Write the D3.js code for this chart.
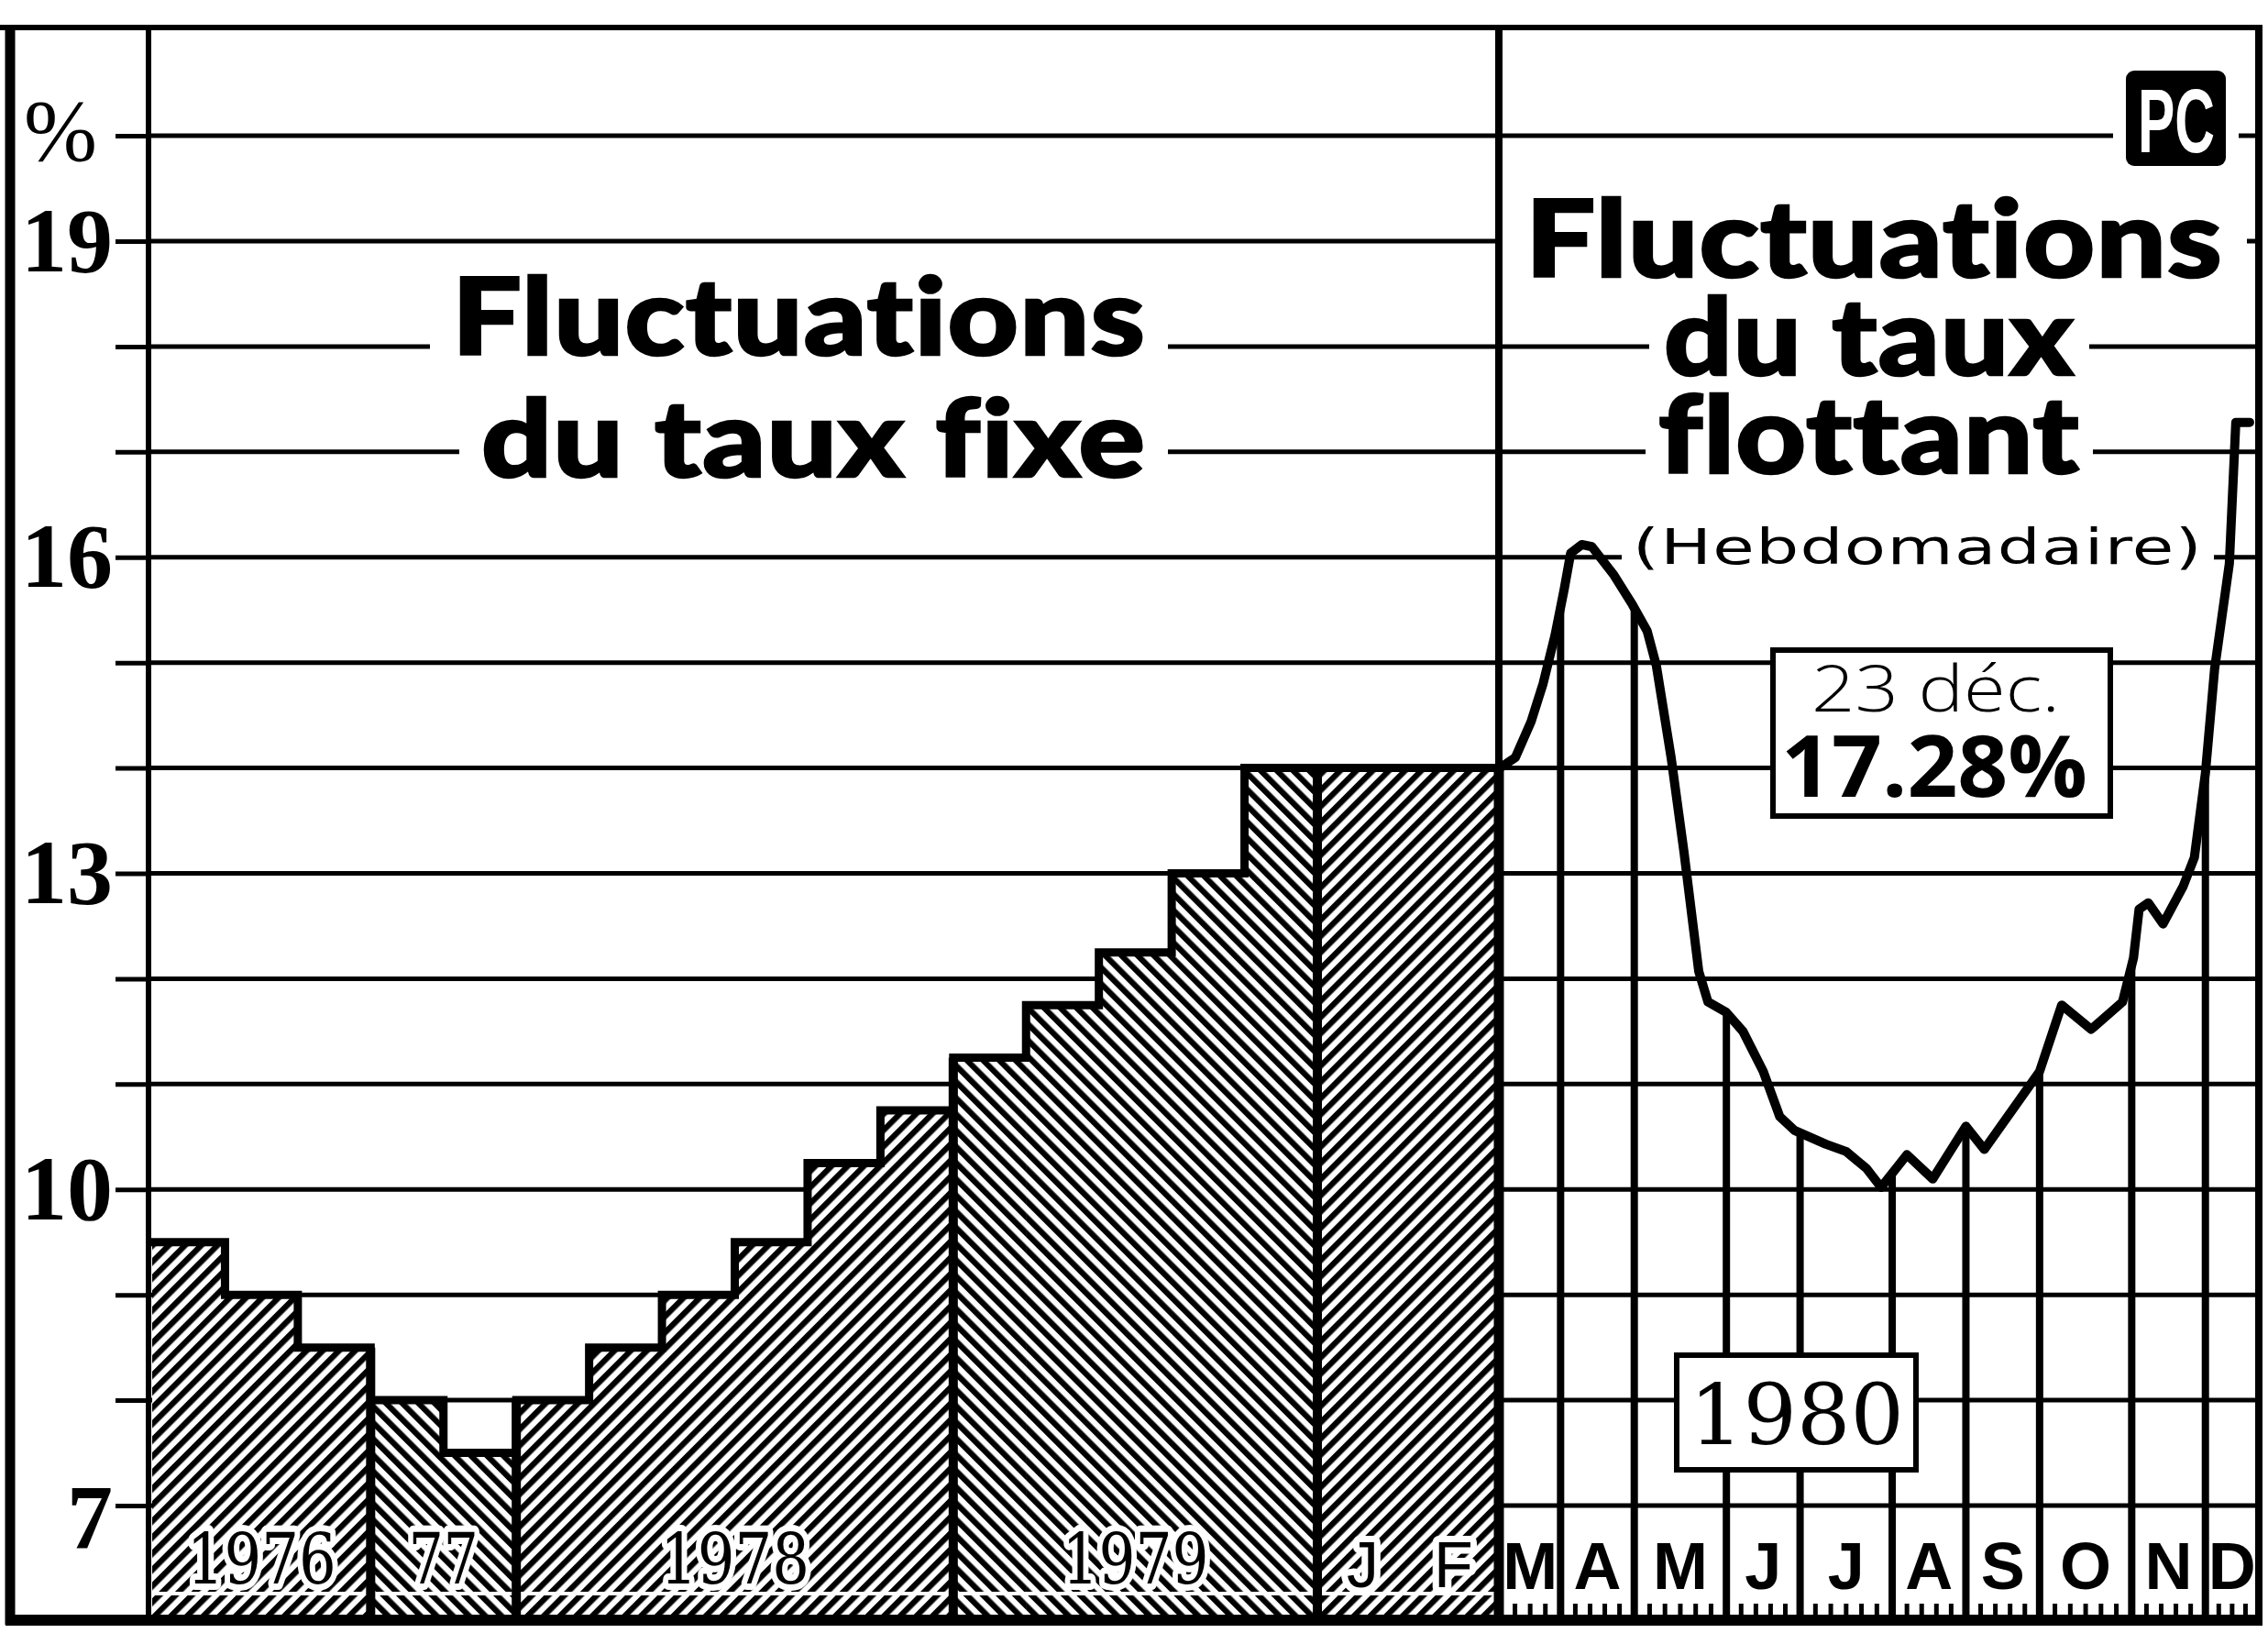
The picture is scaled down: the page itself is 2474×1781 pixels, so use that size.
<!DOCTYPE html>
<html lang="fr">
<head>
<meta charset="utf-8">
<title>Fluctuations du taux</title>
<script src="https://cdn.jsdelivr.net/npm/d3@7/dist/d3.min.js"></script>
<style>
  html, body { margin:0; padding:0; background:#fff; }
  svg { display:block; }
  text { font-variant-ligatures: none; font-feature-settings: "liga" 0, "clig" 0, "dlig" 0; }
</style>
</head>
<body>
<svg id="chart" width="2474" height="1781" xmlns="http://www.w3.org/2000/svg"></svg>
<script>
// ===================== DATA =====================
const gridLevels = [7, 8, 9, 10, 11, 12, 13, 14, 15, 16, 17, 18, 19, 20];
const tickLabels = { 7: "7", 10: "10", 13: "13", 16: "16", 19: "19", 20: "%" };

// fixed rate (taux fixe), one value per step
const fixedRates   = [9.5, 9.0, 8.5, 8.0, 7.5, 8.0, 8.5, 9.0, 9.5, 10.25, 10.75, 11.25, 11.75, 12.25, 13.0, 14.0, 14.0, 14.0];
const fixedGroup   = [0, 0, 0, 1, 1, 2, 2, 2, 2, 2, 2, 3, 3, 3, 3, 3, 4, 4];
const groupEdges   = [3, 5, 11, 16, 18];
const periodLabels = ["1976", "77", "1978", "1979", "J", "F"];
const periodStart  = [0, 3, 5, 11, 16, 17];
const periodEnd    = [3, 5, 11, 16, 17, 18];

// floating rate (taux flottant), weekly, 1980
const monthLabels   = ["M", "A", "M", "J", "J", "A", "S", "O", "N", "D"];
const monthWeeks    = [3.3, 4, 5, 4, 5, 4, 4, 5, 4, 2.9];
const monthReadings = [3, 4, 5, 4, 5, 4, 4, 5, 4, 3];

const floatWeek = [0, 0.85, 1.7, 2.35, 3.0, 3.5, 3.85, 4.45, 5.0, 6.2,
                   7.2, 8.0, 8.5, 9.3, 10.0, 10.8, 11.3, 12.3, 13.2, 14.3,
                   15.2, 16.0, 17.7, 18.8, 19.9, 20.7, 22.1, 23.5, 25.3, 26.3,
                   29.3, 30.5, 32.1, 33.8, 34.4, 34.7, 35.2, 36.0, 37.1, 37.7,
                   38.3, 38.8, 39.6, 39.95, 40.7];
const floatRate = [14.0, 14.1, 14.44, 14.8, 15.26, 15.7, 16.04, 16.12, 16.1, 15.83,
                   15.55, 15.3, 14.97, 14.1, 13.2, 12.07, 11.78, 11.68, 11.5, 11.12,
                   10.69, 10.56, 10.43, 10.36, 10.2, 10.02, 10.33, 10.1, 10.6, 10.38,
                   11.12, 11.75, 11.52, 11.78, 12.2, 12.66, 12.72, 12.52, 12.88, 13.15,
                   13.95, 14.94, 15.94, 17.28, 17.28];

// ===================== LAYOUT =====================
const W = 2474, H = 1781;
const TOP = 30, BOTTOM = 1766, LEFT = 11, RIGHT = 2464;
const AXIS_X = 162, DIVIDER_X = 1635;
const SANS_BOLD = "Lato, 'Liberation Sans', Arial, sans-serif";
const SANS = "'Liberation Sans', Arial, sans-serif";
const SERIF = "'Liberation Serif', 'Times New Roman', serif";
const SERIF_WIDE = "'DejaVu Serif', 'Liberation Serif', serif";

const svg = d3.select("#chart");
svg.append("rect").attr("width", W).attr("height", H).attr("fill", "#fff");

const y = d3.scaleLinear().domain([7, 19]).range([1642, 263]);
const xFix = d3.scaleLinear().domain([0, 16, 18]).range([166, 1437, DIVIDER_X]);
const monthBounds = [0, ...d3.cumsum(monthWeeks)];
const xFlt = d3.scaleLinear().domain([0, d3.sum(monthWeeks)]).range([1636, RIGHT]);

// ---------- patterns ----------
const defs = svg.append("defs");
function hatch(id, angle) {
  const P = 12.5;
  const p = defs.append("pattern").attr("id", id)
    .attr("patternUnits", "userSpaceOnUse")
    .attr("width", P).attr("height", P)
    .attr("patternTransform", `rotate(${angle})`);
  p.append("rect").attr("width", P).attr("height", P).attr("fill", "#fff");
  p.append("rect").attr("width", 6.3).attr("height", P).attr("fill", "#000");
}
hatch("hatchR", 45);   // "/"
hatch("hatchL", -45);  // "\"
const groupHatch = ["hatchR", "hatchL", "hatchR", "hatchL", "hatchR"];

// ---------- horizontal grid ----------
svg.append("g").selectAll("line").data(gridLevels).join("line")
  .attr("x1", AXIS_X).attr("x2", RIGHT)
  .attr("y1", d => y(d)).attr("y2", d => y(d))
  .attr("stroke", "#000").attr("stroke-width", 5);

// ---------- month grid under the floating curve ----------
const floatPts = floatWeek.map((w, i) => [w, floatRate[i]]);
const area = d3.area().x(d => xFlt(d[0])).y0(BOTTOM).y1(d => y(d[1]));
defs.append("clipPath").attr("id", "underCurve").append("path").attr("d", area(floatPts));
svg.append("g").attr("clip-path", "url(#underCurve)")
  .selectAll("line").data(monthBounds.slice(1, -1)).join("line")
  .attr("x1", d => xFlt(d)).attr("x2", d => xFlt(d))
  .attr("y1", TOP).attr("y2", BOTTOM)
  .attr("stroke", "#000").attr("stroke-width", 8);

// ---------- titles (with white knock-out behind them) ----------
const bgG = svg.append("g");
const txtG = svg.append("g");
function title(str, x, base, len, size, opt) {
  const pad = opt.pad || 22;
  bgG.append("rect").attr("x", x - pad).attr("y", base - size * 0.76)
     .attr("width", len + 2 * pad).attr("height", size * 0.98).attr("fill", "#fff");
  txtG.append("text").text(str).attr("x", x).attr("y", base)
     .attr("textLength", len).attr("lengthAdjust", "spacingAndGlyphs")
     .attr("font-family", opt.family).attr("font-weight", opt.weight)
     .attr("font-size", size).attr("fill", "#000")
     .attr("letter-spacing", 1)
     .attr("stroke", opt.stroke ? "#000" : "none").attr("stroke-width", opt.stroke || 0);
}
const T = { family: SANS_BOLD, weight: 900, stroke: 2.5, pad: 24 };
title("Fluctuations", 493, 387, 757, 116, T);
title("du taux fixe", 525, 520, 725, 116, T);
title("Fluctuations", 1664, 302, 761, 116, { ...T, pad: 26 });
title("du taux", 1815, 409, 448, 116, { ...T, pad: 16 });
title("flottant", 1809, 516, 460, 116, { ...T, pad: 14 });
title("(Hebdomadaire)", 1781, 615, 622, 54, { family: "'DejaVu Sans', " + SANS, weight: 400, pad: 12 });

// ---------- fixed-rate stepped bars ----------
const barG = svg.append("g");
barG.selectAll("rect").data(fixedRates).join("rect")
  .attr("x", (d, i) => xFix(i))
  .attr("width", (d, i) => xFix(i + 1) - xFix(i) + 0.5)
  .attr("y", d => y(d))
  .attr("height", d => BOTTOM - y(d))
  .attr("fill", (d, i) => `url(#${groupHatch[fixedGroup[i]]})`);

// thin white cut near the bottom of the hatching
barG.append("line")
  .attr("x1", xFix(0)).attr("x2", xFix(fixedRates.length))
  .attr("y1", BOTTOM - 28).attr("y2", BOTTOM - 28)
  .attr("stroke", "#fff").attr("stroke-width", 4);

// stepped outline
const stepPts = fixedRates.map((r, i) => [i, r]).concat([[fixedRates.length, fixedRates[fixedRates.length - 1]]]);
barG.append("path")
  .attr("d", d3.line().x(d => xFix(d[0])).y(d => y(d[1])).curve(d3.curveStepAfter)(stepPts))
  .attr("fill", "none").attr("stroke", "#000").attr("stroke-width", 9)
  .attr("stroke-linejoin", "miter").attr("stroke-linecap", "square");

// dividers between years
barG.selectAll("line.div").data(groupEdges.slice(0, -1)).join("line").attr("class", "div")
  .attr("x1", d => xFix(d)).attr("x2", d => xFix(d))
  .attr("y1", d => y(Math.max(fixedRates[d - 1], fixedRates[d])))
  .attr("y2", BOTTOM)
  .attr("stroke", "#000").attr("stroke-width", 10);

// period labels inside the bars: white halo layer, then black text layer
const yearLen = { "1976": 163, "77": 76, "1978": 163, "1979": 160 };
function periodText(layer, halo) {
  layer.selectAll("text").data(periodLabels).join("text")
    .text(d => d)
    .attr("x", (d, i) => xFix((periodStart[i] + periodEnd[i]) / 2))
    .attr("y", (d, i) => i < 4 ? 1727 : 1731)
    .attr("text-anchor", "middle")
    .attr("font-family", (d, i) => i < 4 ? SERIF_WIDE : SANS)
    .attr("font-size", (d, i) => i < 4 ? 76 : 70)
    .each(function (d, i) {
      if (i < 4) d3.select(this).attr("textLength", yearLen[d]).attr("lengthAdjust", "spacingAndGlyphs");
    })
    .attr("fill", halo ? "#fff" : "#000")
    .attr("stroke", halo ? "#fff" : "none")
    .attr("stroke-width", halo ? 14 : 0)
    .attr("stroke-linejoin", "round");
}
periodText(barG.append("g"), true);
periodText(barG.append("g"), false);

// ---------- floating-rate curve ----------
svg.append("path")
  .attr("d", d3.line().x(d => xFlt(d[0])).y(d => y(d[1]))(floatPts))
  .attr("fill", "none").attr("stroke", "#000").attr("stroke-width", 10)
  .attr("stroke-linejoin", "round").attr("stroke-linecap", "round");

// month labels
svg.append("g").selectAll("text").data(monthLabels).join("text")
  .text(d => d)
  .attr("x", (d, i) => xFlt((monthBounds[i] + monthBounds[i + 1]) / 2))
  .attr("y", 1733)
  .attr("text-anchor", "middle")
  .attr("font-family", SANS).attr("font-weight", 700)
  .attr("font-size", 72).attr("fill", "#000");

// weekly teeth along the bottom
const teeth = [];
monthReadings.forEach((n, i) => {
  for (let k = 0; k < n; k++) teeth.push(monthBounds[i] + (k + 1) * monthWeeks[i] / (n + 1));
});
svg.append("g").selectAll("rect").data(teeth).join("rect")
  .attr("x", d => xFlt(d) - 2.5).attr("width", 5)
  .attr("y", BOTTOM - 17).attr("height", 14).attr("fill", "#000");

// ---------- annotation boxes ----------
const box1 = svg.append("g");
box1.append("rect").attr("x", 1934).attr("y", 709).attr("width", 368).attr("height", 181)
  .attr("fill", "#fff").attr("stroke", "#000").attr("stroke-width", 6);
box1.append("text").text("23 déc.").attr("x", 1976).attr("y", 776)
  .attr("textLength", 271).attr("lengthAdjust", "spacingAndGlyphs")
  .attr("font-family", "'Open Sans', " + SANS).attr("font-weight", 300)
  .attr("font-size", 70).attr("fill", "#000");
box1.append("text").text("17.28%").attr("x", 1943).attr("y", 869)
  .attr("textLength", 334).attr("lengthAdjust", "spacingAndGlyphs")
  .attr("font-family", "'Open Sans', " + SANS).attr("font-weight", 700)
  .attr("font-size", 94).attr("fill", "#000");

const box2 = svg.append("g");
box2.append("rect").attr("x", 1829).attr("y", 1478).attr("width", 261).attr("height", 125)
  .attr("fill", "#fff").attr("stroke", "#000").attr("stroke-width", 6);
box2.append("text").text("1980").attr("x", 1960).attr("y", 1575)
  .attr("text-anchor", "middle").attr("textLength", 234).attr("lengthAdjust", "spacingAndGlyphs")
  .attr("font-family", SERIF_WIDE).attr("font-size", 92).attr("fill", "#000");

// PC logo
svg.append("rect").attr("x", 2305).attr("y", 70).attr("width", 137).attr("height", 118).attr("fill", "#fff");
svg.append("rect").attr("x", 2319).attr("y", 77).attr("width", 109).attr("height", 104)
  .attr("rx", 9).attr("fill", "#000");
svg.append("text").text("PC").attr("x", 2374).attr("y", 166)
  .attr("text-anchor", "middle").attr("textLength", 84).attr("lengthAdjust", "spacingAndGlyphs")
  .attr("font-family", "'Liberation Sans Narrow', " + SANS).attr("font-weight", 700)
  .attr("font-size", 98).attr("fill", "#fff");

// ---------- frame ----------
const frame = svg.append("g").attr("stroke", "#000");
frame.append("line").attr("x1", 0).attr("x2", RIGHT + 4).attr("y1", TOP).attr("y2", TOP).attr("stroke-width", 6);
frame.append("line").attr("x1", LEFT).attr("x2", LEFT).attr("y1", TOP - 3).attr("y2", BOTTOM + 6).attr("stroke-width", 11);
frame.append("line").attr("x1", RIGHT).attr("x2", RIGHT).attr("y1", TOP - 3).attr("y2", BOTTOM + 6).attr("stroke-width", 8);
frame.append("line").attr("x1", LEFT - 5).attr("x2", RIGHT + 4).attr("y1", BOTTOM + 1).attr("y2", BOTTOM + 1).attr("stroke-width", 12);
frame.append("line").attr("x1", AXIS_X).attr("x2", AXIS_X).attr("y1", TOP).attr("y2", BOTTOM).attr("stroke-width", 6);
frame.append("line").attr("x1", DIVIDER_X).attr("x2", DIVIDER_X).attr("y1", TOP).attr("y2", y(fixedRates[fixedRates.length - 1])).attr("stroke-width", 8);
frame.append("line").attr("x1", DIVIDER_X).attr("x2", DIVIDER_X).attr("y1", y(fixedRates[fixedRates.length - 1])).attr("y2", BOTTOM).attr("stroke-width", 11);

// ---------- y axis ticks & labels ----------
const yAxis = d3.axisLeft(y).tickValues(gridLevels).tickSize(36).tickPadding(3)
  .tickFormat(d => tickLabels[d] || "");
const gAxis = svg.append("g").attr("transform", `translate(${AXIS_X},0)`).call(yAxis);
gAxis.select(".domain").remove();
gAxis.selectAll(".tick line").attr("stroke", "#000").attr("stroke-width", 5);
gAxis.selectAll(".tick text")
  .attr("font-family", SERIF).attr("font-weight", 700)
  .attr("font-size", 100).attr("fill", "#000");
gAxis.selectAll(".tick").filter(d => d === 20).select("text")
  .attr("font-weight", 400).attr("font-size", 96).attr("x", -56).attr("dy", "0.28em");
gAxis.selectAll(".tick").filter(d => d === 7).select("text").attr("dy", "0.45em");
</script>
</body>
</html>
